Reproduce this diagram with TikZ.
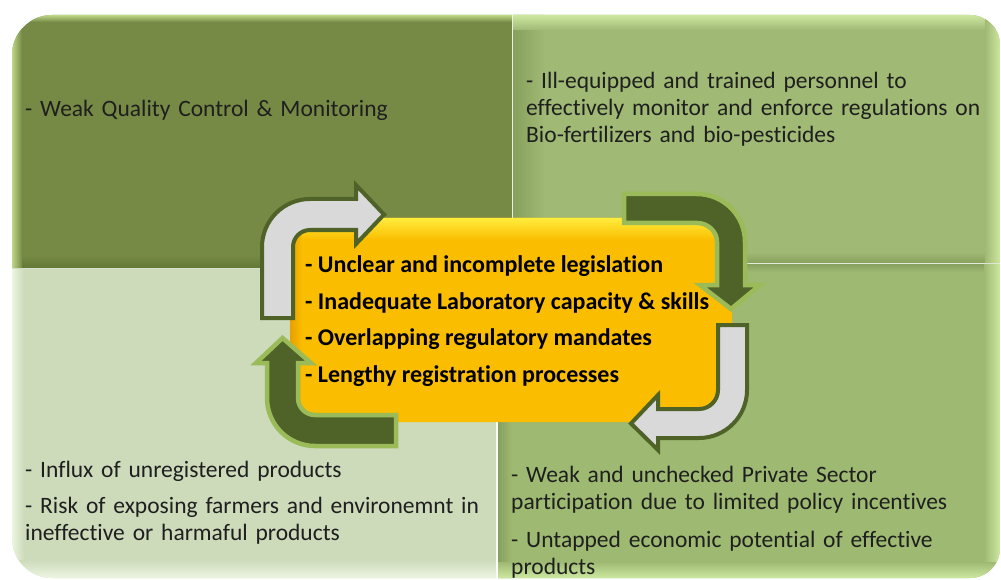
\documentclass[tikz,border=0pt]{standalone}
\usepackage{fontspec}
\setmainfont{Carlito}[Ligatures=NoCommon]
\usepackage{tikz}

\definecolor{tlbase}{RGB}{118,138,69}
\definecolor{tllight}{RGB}{190,215,135}
\definecolor{tldark}{RGB}{100,120,55}
\definecolor{trbase}{RGB}{160,185,116}
\definecolor{trlight}{RGB}{205,230,160}
\definecolor{trdark}{RGB}{135,160,92}
\definecolor{blbase}{RGB}{205,219,187}
\definecolor{bllight}{RGB}{236,245,225}
\definecolor{brbase}{RGB}{158,185,113}
\definecolor{brlight}{RGB}{205,232,160}
\definecolor{brdark}{RGB}{135,160,95}
\definecolor{issuemain}{RGB}{250,189,0}
\definecolor{issuetop}{RGB}{255,236,60}
\definecolor{issueedge}{RGB}{232,160,0}
\definecolor{arrowgrey}{RGB}{217,217,217}
\definecolor{arrowdark}{RGB}{79,98,40}
\definecolor{arrowlight}{RGB}{155,187,89}

\begin{document}
\begin{tikzpicture}[x=1pt,y=-1pt,
  quadtxt/.style={anchor=base west,align=left,text width=480pt,inner sep=0pt,
    font=\fontsize{23.5}{27}\selectfont,text=black!88},
  issuetxt/.style={anchor=base west,inner sep=0pt,font=\fontsize{24}{27}\selectfont\bfseries,text=black},
  greyarrow/.style={fill=arrowgrey,draw=arrowdark,line width=4pt,line join=miter},
  greenarrow/.style={fill=arrowdark,draw=arrowlight,line width=4.5pt,line join=miter}]
\fill[white] (0,0) rectangle (1001,580);
\useasboundingbox (0,0) rectangle (1001,580);

% top left quadrant
\begin{scope}
\clip (12,268) -- (12,55) .. controls (12,33) and (30,15) .. (52,15) -- (512,15) -- (512,268) -- cycle;
\fill[tlbase] (0,0) rectangle (520,280);
\shade[top color=tllight,bottom color=tlbase] (12,15) rectangle (512,22);
\shade[top color=tlbase,bottom color=tldark] (12,255) rectangle (512,268);
\shade[left color=tllight,right color=tlbase] (12,15) rectangle (22,268);
\end{scope}
% top right quadrant
\begin{scope}
\clip (513,15) -- (970,15) .. controls (986.6,15) and (1000,28.4) .. (1000,45) -- (1000,263) -- (513,263) -- cycle;
\fill[trbase] (500,0) rectangle (1001,270);
\shade[left color=trdark,right color=trbase] (513,15) rectangle (545,263);
\shade[top color=trlight,bottom color=trbase] (513,15) rectangle (1000,30);
\shade[top color=trbase,bottom color=trdark] (513,252) rectangle (1000,263);
\shade[left color=trbase,right color=trlight] (985,15) rectangle (1000,263);
\end{scope}
% bottom left quadrant
\begin{scope}
\clip (12,269) -- (496,269) -- (496,578) -- (52,578) .. controls (30,578) and (12,560) .. (12,538) -- cycle;
\fill[blbase] (0,260) rectangle (500,580);
\shade[left color=bllight,right color=blbase] (12,269) rectangle (24,578);
\shade[top color=blbase,bottom color=bllight] (12,560) rectangle (496,578);
\end{scope}
% bottom right quadrant
\begin{scope}
\clip (498,264) -- (1000,264) -- (1000,548) .. controls (1000,564.6) and (986.6,578) .. (970,578) -- (498,578) -- cycle;
\fill[brbase] (490,260) rectangle (1001,580);
\shade[left color=brdark,right color=brbase] (498,264) rectangle (512,578);
\shade[top color=brdark,bottom color=brbase] (498,264) rectangle (1000,272);
\shade[left color=brbase,right color=brlight] (984,264) rectangle (1000,578);
\shade[top color=brbase,bottom color=brlight] (498,562) rectangle (1000,578);
\end{scope}

\node[quadtxt] (quality) at (25,117) {- Weak Quality Control \& Monitoring};
\node[quadtxt] (personnel) at (526,89) {- Ill-equipped and trained personnel to\\
  effectively monitor and enforce regulations on\\Bio-fertilizers and bio-pesticides};
\node[quadtxt] (influx) at (25,477) {- Influx of unregistered products\\[9pt]
  - Risk of exposing farmers and environemnt in\\ineffective or harmaful products};
\node[quadtxt] (private) at (511,482) {- Weak and unchecked Private Sector\\
  participation due to limited policy incentives\\[11pt]
  - Untapped economic potential of effective\\products};

% central box
\node[draw=none,fill=issuemain,rounded corners=25pt,minimum width=442pt,minimum height=204pt,
  inner sep=0pt] (issuebox) at (511,320) {};
\begin{scope}
\clip[rounded corners=25pt] (290,218) rectangle (732,422);
\shade[top color=issuetop,bottom color=issuemain] (290,218) rectangle (732,240);
\shade[left color=issueedge,right color=issuemain] (290,218) rectangle (302,422);
\end{scope}
\foreach \n/\y/\t in {1/272/- Unclear and incomplete legislation,
  2/309/- Inadequate Laboratory capacity \& skills,
  3/345/- Overlapping regulatory mandates,
  4/382/- Lengthy registration processes} {
  \node[issuetxt] (issue\n) at (305,\y) {\t};
}

% cycle arrows
\draw[greyarrow] (262,318) -- (262,247) .. controls (262,220.5) and (283.5,199) .. (310,199)
  -- (356,199) -- (356,185) -- (384,214.5) -- (356,244) -- (356,230) -- (310,230)
  .. controls (300.6,230) and (293,237.6) .. (293,247) -- (293,318) -- cycle;
\draw[greenarrow] (624,194) -- (697,194) .. controls (723.5,194) and (745,215.5) .. (745,242)
  -- (745,285) -- (760,285) -- (731,309) -- (700,285) -- (717,285) -- (717,242)
  .. controls (717,231.5) and (708,223) .. (697,223) -- (624,223) -- cycle;
\draw[greyarrow] (718,325) -- (747,325) -- (747,390) .. controls (747,416.5) and (725.5,438) .. (699,438)
  -- (658,438) -- (658,450) -- (631,423.5) -- (658,395) -- (658,409) -- (699,409)
  .. controls (709.5,409) and (718,400.5) .. (718,390) -- cycle;
\draw[greenarrow] (396,415) -- (396,446) -- (315,446) .. controls (288.5,446) and (267,424.5) .. (267,398)
  -- (267,363) -- (256,363) -- (282.5,338) -- (311,363) -- (298,363) -- (298,398)
  .. controls (298,407.4) and (305.6,415) .. (315,415) -- cycle;
\end{tikzpicture}
\end{document}
